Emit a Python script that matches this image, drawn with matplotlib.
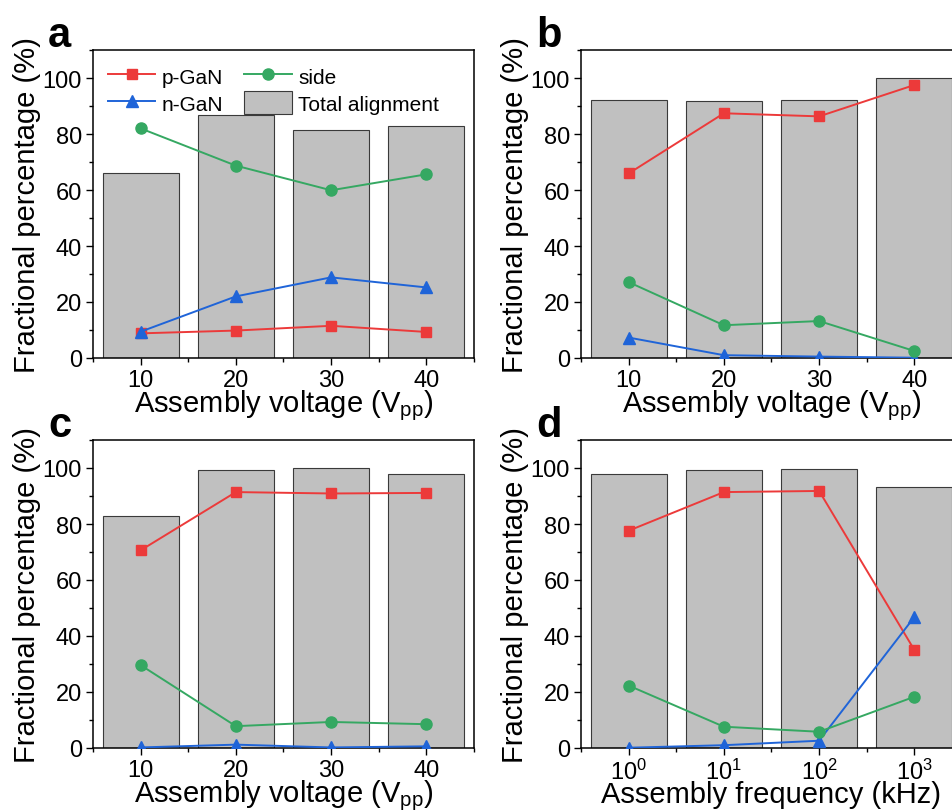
import numpy as np
import matplotlib.pyplot as plt
from matplotlib.ticker import MultipleLocator

plt.rcParams['font.family'] = ['Liberation Sans', 'DejaVu Sans']
plt.rcParams['mathtext.fontset'] = 'custom'
plt.rcParams['mathtext.rm'] = 'Liberation Sans'
plt.rcParams['mathtext.it'] = 'Liberation Sans'

# category positions on the x axis
pos = [10, 20, 30, 40]
volt_labels = ['10', '20', '30', '40']
freq_labels = ['$10^0$', '$10^1$', '$10^2$', '$10^3$']

# panel a: voltage sweep
a_total = [66.0, 86.8, 81.5, 83.0]
a_pgan = [8.8, 9.8, 11.5, 9.3]
a_ngan = [9.4, 22.0, 28.8, 25.2]
a_side = [82.0, 68.7, 59.9, 65.6]

# panel b
b_total = [92.3, 91.8, 92.3, 100.0]
b_pgan = [65.9, 87.4, 86.3, 97.5]
b_ngan = [7.3, 1.0, 0.5, 0.1]
b_side = [27.1, 11.7, 13.2, 2.5]

# panel c
c_total = [82.7, 99.2, 100.0, 97.7]
c_pgan = [70.6, 91.4, 90.9, 91.1]
c_ngan = [0.2, 1.2, 0.2, 0.6]
c_side = [29.6, 7.8, 9.3, 8.5]

# panel d: frequency sweep
d_total = [97.7, 99.2, 99.6, 93.1]
d_pgan = [77.6, 91.4, 91.8, 35.0]
d_ngan = [0.1, 1.0, 2.6, 46.8]
d_side = [22.3, 7.6, 5.8, 18.3]

red = '#ec3a3a'
blue = '#1f64d8'
green = '#35a862'
bar_col = '#c0c0c0'

fig = plt.figure(figsize=(9.53, 8.12), dpi=100)
W, H = 953, 812

def make_axes(left, top, bottom):
    return fig.add_axes([left / W, (H - bottom) / H, 381 / W, (bottom - top) / H])

panels = [
    (make_axes(93, 51, 359), 'a', a_total, a_pgan, a_ngan, a_side, volt_labels, r'Assembly voltage (V$_{\rm pp}$)'),
    (make_axes(581, 51, 359), 'b', b_total, b_pgan, b_ngan, b_side, volt_labels, r'Assembly voltage (V$_{\rm pp}$)'),
    (make_axes(93, 441, 749), 'c', c_total, c_pgan, c_ngan, c_side, volt_labels, r'Assembly voltage (V$_{\rm pp}$)'),
    (make_axes(581, 441, 749), 'd', d_total, d_pgan, d_ngan, d_side, freq_labels, 'Assembly frequency (kHz)'),
]

for ax, letter, total, pgan, ngan, side, xt, xlab in panels:
    bars = ax.bar(pos, total, width=8, color=bar_col, edgecolor='#3a3a3a', linewidth=0.8,
                  label='Total alignment', zorder=1)
    l1, = ax.plot(pos, pgan, '-s', color=red, ms=7, lw=1.4, label='p-GaN', zorder=3)
    l2, = ax.plot(pos, ngan, '-^', color=blue, ms=8.5, lw=1.4, label='n-GaN', zorder=3)
    l3, = ax.plot(pos, side, '-o', color=green, ms=8, lw=1.4, label='side', zorder=3)

    ax.set_xlim(5, 45)
    ax.set_ylim(0, 110)
    ax.set_xticks(pos)
    ax.set_xticklabels(xt)
    ax.xaxis.set_minor_locator(MultipleLocator(5))
    ax.yaxis.set_major_locator(MultipleLocator(20))
    ax.yaxis.set_minor_locator(MultipleLocator(10))
    ax.tick_params(which='major', direction='out', length=5, width=1, labelsize=17, pad=3)
    ax.tick_params(which='minor', direction='out', length=3, width=1)
    for s in ax.spines.values():
        s.set_linewidth(1.1)
    ax.set_ylabel('Fractional percentage (%)', fontsize=21, labelpad=1)
    ax.set_xlabel(xlab, fontsize=21, labelpad=-3)
    ax.text(-0.118, 0.985, letter, transform=ax.transAxes, fontsize=30, fontweight='bold',
            va='bottom', ha='left')

    if letter == 'a':
        ax.legend([l1, l2, l3, bars], ['p-GaN', 'n-GaN', 'side', 'Total alignment'],
                  ncol=2, loc='upper left', frameon=False, fontsize=15,
                  handlelength=2.3, handleheight=1.3, handletextpad=0.3, columnspacing=1.0,
                  labelspacing=0.2, borderaxespad=0.3)

fig.savefig('out.png', dpi=100)
